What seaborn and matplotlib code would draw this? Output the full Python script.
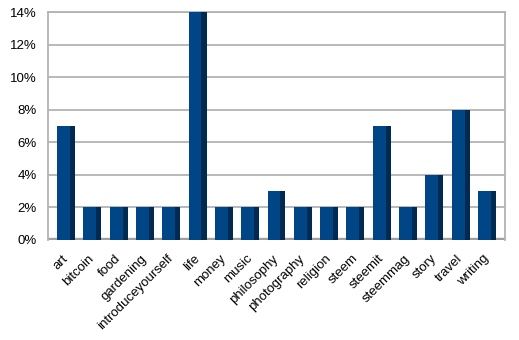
import matplotlib
matplotlib.use("Agg")
import matplotlib.pyplot as plt
import matplotlib.transforms as mtransforms
import seaborn as sns
import pandas as pd
from matplotlib.patches import Rectangle
from matplotlib.ticker import FuncFormatter, MultipleLocator

categories = ["art", "bitcoin", "food", "gardening", "introduceyourself", "life",
              "money", "music", "philosophy", "photography", "religion", "steem",
              "steemit", "steemmag", "story", "travel", "writing"]
shares = [7, 2, 2, 2, 2, 14, 2, 2, 3, 2, 2, 2, 7, 2, 4, 8, 3]

df = pd.DataFrame({"tag": categories, "share": shares})

sns.set_theme(style="white")
plt.rcParams["font.family"] = ["Liberation Sans", "DejaVu Sans"]

fig = plt.figure(figsize=(5.19, 3.40), dpi=100)
ax = fig.add_axes([48 / 519, 100 / 340, 457 / 519, 228 / 340])

sns.barplot(data=df, x="tag", y="share", color="#004586", width=0.68,
            saturation=1, ax=ax, zorder=3, edgecolor="none")

# darker side face for a 3D look
for p in list(ax.patches):
    x, y = p.get_x(), p.get_y()
    w, h = p.get_width(), p.get_height()
    ax.add_patch(Rectangle((x + w * 0.72, y), w * 0.28, h, color="#002a52",
                           zorder=4, linewidth=0))

ax.set_ylim(0, 14)
ax.set_xlim(-0.684, len(categories) - 1 + 0.684)
ax.yaxis.set_major_locator(MultipleLocator(2))
ax.yaxis.set_major_formatter(FuncFormatter(lambda v, _: f"{v:.0f}%"))
ax.grid(axis="y", color="#b3b3b3", linewidth=1.3, zorder=0)
ax.axhspan(0, 0.12, color="#a0a0a0", zorder=2)

for s in ["top", "right", "left"]:
    ax.spines[s].set_color("#b3b3b3")
    ax.spines[s].set_linewidth(1.3)
ax.spines["bottom"].set_visible(False)

ax.set_xlabel("")
ax.set_ylabel("")
ax.tick_params(axis="y", labelsize=9.5, pad=8, length=0, labelcolor="black")
ax.tick_params(axis="x", labelsize=9.5, length=0, pad=9, labelcolor="black")
offset = mtransforms.ScaledTranslation(-4 / 100, 0, fig.dpi_scale_trans)
for lbl in ax.get_xticklabels():
    lbl.set_rotation(45)
    lbl.set_ha("right")
    lbl.set_rotation_mode("anchor")
    lbl.set_transform(lbl.get_transform() + offset)

fig.savefig("out.png", dpi=100)
